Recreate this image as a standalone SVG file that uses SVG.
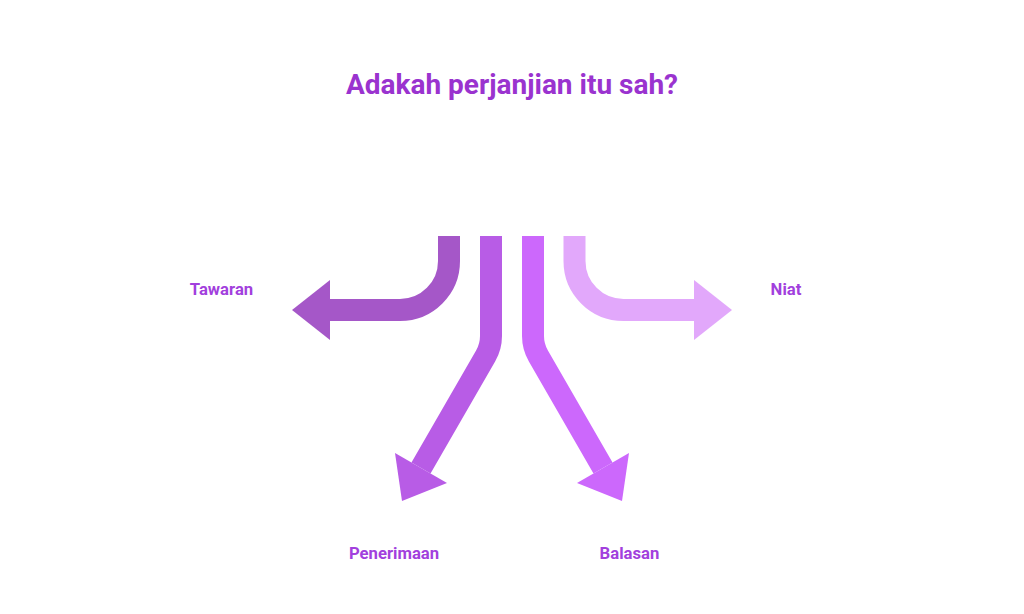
<svg xmlns="http://www.w3.org/2000/svg" width="1024" height="614" viewBox="0 0 1024 614">
<style>
.t{font-family:Roboto,"Liberation Sans",sans-serif;font-weight:bold;text-anchor:middle}
.title{font-size:28px;fill:#9A33CF}
.lbl{font-size:16.7px;fill:#A23FDD}
.band{fill:none;stroke-width:22}
</style>
<rect width="1024" height="614" fill="#fff"/>
<text class="t title" x="512" y="94">Adakah perjanjian itu sah?</text>
<g id="connectors">
<g id="arrow-tawaran">
<path class="band" stroke="#A557C8" d="M449,236 V261 A49,49 0 0 1 400,310 H328"/>
<polygon fill="#A557C8" points="330,280 330,340 292,310"/>
</g>
<g id="arrow-penerimaan">
<path class="band" stroke="#B85CE6" d="M491,236 V336 A40,40 0 0 1 485.6,356 L421,468"/>
<polygon fill="#B85CE6" points="395,453 447,483 402,501"/>
</g>
<g id="arrow-balasan">
<path class="band" stroke="#CC68FC" d="M533,236 V336 A40,40 0 0 0 538.4,356 L603,468"/>
<polygon fill="#CC68FC" points="629,453 577,483 622,501"/>
</g>
<g id="arrow-niat">
<path class="band" stroke="#E2A8FB" d="M574.5,236 V261 A49,49 0 0 0 623.5,310 H696"/>
<polygon fill="#E2A8FB" points="694,280 694,340 732,310"/>
</g>
</g>
<g id="node-tawaran"><text class="t lbl" x="221.5" y="295">Tawaran</text></g>
<g id="node-niat"><text class="t lbl" x="786" y="295">Niat</text></g>
<g id="node-penerimaan"><text class="t lbl" x="394" y="559">Penerimaan</text></g>
<g id="node-balasan"><text class="t lbl" x="629.5" y="559">Balasan</text></g>
</svg>
